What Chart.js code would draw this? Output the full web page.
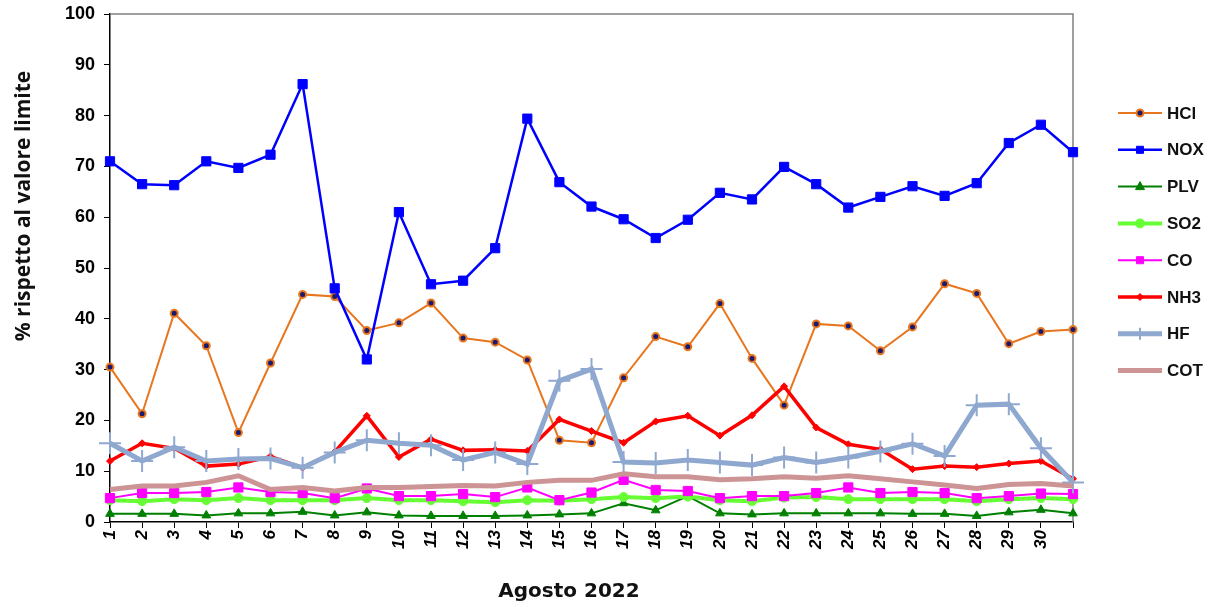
<!DOCTYPE html>
<html><head><meta charset="utf-8">
<script src="https://cdn.jsdelivr.net/npm/chart.js@4.4.1/dist/chart.umd.min.js"></script>
<style>html,body{margin:0;padding:0;background:#fff;}</style>
</head><body>
<canvas id="c" width="1217" height="607" style="width:1217px;height:607px;display:block"></canvas>
<script>
const dayLabels = ['1','2','3','4','5','6','7','8','9','10','11','12','13','14','15','16','17','18','19','20','21','22','23','24','25','26','27','28','29','30',''];
const yTicks = [0,10,20,30,40,50,60,70,80,90,100];
const seriesNames = ['HCl','NOX','PLV','SO2','CO','NH3','HF','COT'];
const HCl = [30.5,21.3,41.1,34.7,17.6,31.3,44.8,44.4,37.7,39.2,43.1,36.2,35.4,31.9,16.1,15.6,28.4,36.5,34.5,43.0,32.2,23.0,39.0,38.6,33.7,38.4,46.9,45.0,35.1,37.5,37.9];
const NOX = [71.0,66.5,66.3,71.0,69.7,72.3,86.2,46.0,32.0,61.0,46.8,47.5,53.9,79.4,66.9,62.1,59.6,55.9,59.5,64.8,63.5,69.9,66.5,61.9,64.0,66.1,64.2,66.7,74.6,78.2,72.8];
const PLV = [1.6,1.6,1.6,1.3,1.7,1.7,2.0,1.3,1.9,1.3,1.2,1.2,1.2,1.3,1.5,1.7,3.7,2.3,5.1,1.7,1.5,1.7,1.7,1.7,1.7,1.6,1.6,1.2,1.9,2.4,1.7];
const SO2 = [4.3,4.1,4.5,4.3,4.7,4.3,4.3,4.3,4.7,4.3,4.3,4.1,3.9,4.3,4.2,4.5,4.9,4.7,5.0,4.3,4.1,4.8,4.9,4.5,4.5,4.5,4.5,4.1,4.5,4.7,4.5];
const CO  = [4.7,5.7,5.7,5.9,6.8,5.9,5.7,4.7,6.6,5.1,5.1,5.5,4.9,6.8,4.3,5.8,8.3,6.3,6.1,4.7,5.1,5.1,5.7,6.8,5.7,5.9,5.7,4.7,5.1,5.6,5.5];
const NH3 = [12.0,15.5,14.5,11.0,11.4,12.9,10.7,13.8,20.9,12.8,16.3,14.1,14.2,14.0,20.2,17.9,15.6,19.8,20.9,17.0,21.0,26.7,18.6,15.3,14.3,10.4,11.0,10.8,11.5,12.0,8.5];
const HF  = [15.5,12.0,14.7,12.0,12.4,12.5,10.7,13.7,16.1,15.5,15.1,12.2,13.7,11.4,27.8,30.1,11.8,11.6,12.2,11.7,11.2,12.7,11.7,12.7,13.9,15.4,13.0,23.0,23.2,14.5,7.8];
const COT = [6.4,7.1,7.1,7.8,9.1,6.4,6.8,6.1,6.8,6.8,7.0,7.2,7.1,7.8,8.2,8.2,9.5,8.9,8.9,8.3,8.5,8.9,8.6,9.1,8.5,7.9,7.3,6.6,7.4,7.6,7.1];

const values = [HCl,NOX,PLV,SO2,CO,NH3,HF,COT];
const styles = [
  {c:'#E8761E', w:2,   ps:'circle',   r:3.5, bg:'#1a1a6e', bw:2},
  {c:'#0000FF', w:2.5, ps:'rect',     r:6.5, bg:'#0000FF', bw:1},
  {c:'#008000', w:2,   ps:'triangle', r:5,   bg:'#008000', bw:1},
  {c:'#66FF33', w:4,   ps:'circle',   r:4.5, bg:'#66FF33', bw:1},
  {c:'#FF00FF', w:2,   ps:'rect',     r:6.5, bg:'#FF00FF', bw:1},
  {c:'#FF0000', w:3.5, ps:'rectRot',  r:3.5, bg:'#FF0000', bw:1},
  {c:'#8FA8D0', w:5,   ps:'cross',    r:11,  bg:'#8FA8D0', bw:2},
  {c:'#CC9494', w:5,   ps:'circle',   r:0,   bg:'#CC9494', bw:0}
];

const datasets = seriesNames.map((n,i)=>({
  label:n, data:values[i], borderColor:styles[i].c, backgroundColor:styles[i].bg,
  borderWidth:styles[i].w, pointStyle:styles[i].ps, pointRadius:styles[i].r,
  pointBorderColor:styles[i].c, pointBackgroundColor:styles[i].bg, pointBorderWidth:styles[i].bw,
  tension:0, fill:false, order: seriesNames.length-1-i
}));

function drawMarker(ctx, s, x, y){
  if(!s.r) return;
  ctx.save();
  ctx.fillStyle = s.bg; ctx.strokeStyle = s.c; ctx.lineWidth = s.bw;
  const r = s.r;
  ctx.beginPath();
  if(s.ps==='circle'){ ctx.arc(x,y,r,0,Math.PI*2); ctx.fill(); if(s.bw) ctx.stroke(); }
  else if(s.ps==='rect'){ const h=r*Math.SQRT1_2; ctx.rect(x-h,y-h,2*h,2*h); ctx.fill(); ctx.stroke(); }
  else if(s.ps==='rectRot'){ ctx.moveTo(x,y-r); ctx.lineTo(x+r,y); ctx.lineTo(x,y+r); ctx.lineTo(x-r,y); ctx.closePath(); ctx.fill(); ctx.stroke(); }
  else if(s.ps==='triangle'){ ctx.moveTo(x,y-r); ctx.lineTo(x+r*0.9,y+r*0.6); ctx.lineTo(x-r*0.9,y+r*0.6); ctx.closePath(); ctx.fill(); ctx.stroke(); }
  else if(s.ps==='cross'){ ctx.moveTo(x,y-6); ctx.lineTo(x,y+6); ctx.stroke(); }
  ctx.restore();
}

const decor = {
  id:'decor',
  beforeDatasetsDraw(chart){
    const {ctx, chartArea:a} = chart;
    ctx.save();
    ctx.strokeStyle='#808080'; ctx.lineWidth=1.5;
    ctx.beginPath(); ctx.moveTo(a.left,a.top); ctx.lineTo(a.right,a.top); ctx.lineTo(a.right,a.bottom); ctx.stroke();
    ctx.restore();
  },
  afterDraw(chart){
    const {ctx} = chart;
    ctx.save();
    ctx.fillStyle='#111';
    ctx.font='bold 21px "Open Sans", "Liberation Sans", Arial, sans-serif';
    ctx.textAlign='center'; ctx.textBaseline='middle';
    ctx.translate(24,206); ctx.rotate(-Math.PI/2);
    ctx.fillText('% rispetto al valore limite',0,0);
    ctx.restore();
    ctx.save();
    ctx.fillStyle='#111';
    ctx.font='bold 20px "DejaVu Sans", Verdana, sans-serif';
    ctx.textAlign='center'; ctx.textBaseline='middle';
    ctx.fillText('Agosto 2022',569,592);
    ctx.restore();
    ctx.save();
    seriesNames.forEach((n,i)=>{
      const s = styles[i];
      const y = 113 + i*36.8;
      ctx.strokeStyle=s.c; ctx.lineWidth=s.w;
      ctx.beginPath(); ctx.moveTo(1118,y); ctx.lineTo(1162,y); ctx.stroke();
      const ls = Object.assign({}, s, {r: s.ps==='cross'?10:Math.min(s.r,5)});
      drawMarker(ctx, ls, 1140, y);
      ctx.fillStyle='#111';
      ctx.font='bold 17px "Liberation Sans", Arial, sans-serif';
      ctx.textAlign='left'; ctx.textBaseline='middle';
      ctx.fillText(n,1167,y+1);
    });
    ctx.restore();
  }
};

new Chart(document.getElementById('c'), {
  type:'line',
  data:{labels:dayLabels, datasets},
  options:{
    responsive:false, animation:false, devicePixelRatio:1,
    layout:{padding:{left:0,right:144,top:14,bottom:0}},
    plugins:{legend:{display:false}, tooltip:{enabled:false}},
    scales:{
      x:{
        type:'category', offset:false,
        grid:{display:true, drawOnChartArea:false, drawTicks:true, tickLength:6, color:'#000', lineWidth:1},
        border:{display:true, color:'#000', width:1.5},
        ticks:{autoSkip:false, minRotation:90, maxRotation:90, padding:2, color:'#000',
          font:{family:'"Liberation Sans", Arial, sans-serif', size:17, weight:'bold', style:'italic'}},
        afterFit(s){ s.height = 85; s.paddingLeft = 0; s.paddingRight = 0; }
      },
      y:{
        min:0, max:100,
        afterBuildTicks(s){ s.ticks = yTicks.map(v=>({value:v})); },
        grid:{display:true, drawOnChartArea:false, drawTicks:true, tickLength:6, color:'#000'},
        border:{display:true, color:'#000', width:1.5},
        ticks:{padding:9, color:'#000', font:{family:'"Liberation Sans", Arial, sans-serif', size:18, weight:'bold'}},
        afterFit(s){ s.width = 110; s.paddingTop = 0; s.paddingBottom = 0; }
      }
    }
  },
  plugins:[decor]
});
</script>
</body></html>
